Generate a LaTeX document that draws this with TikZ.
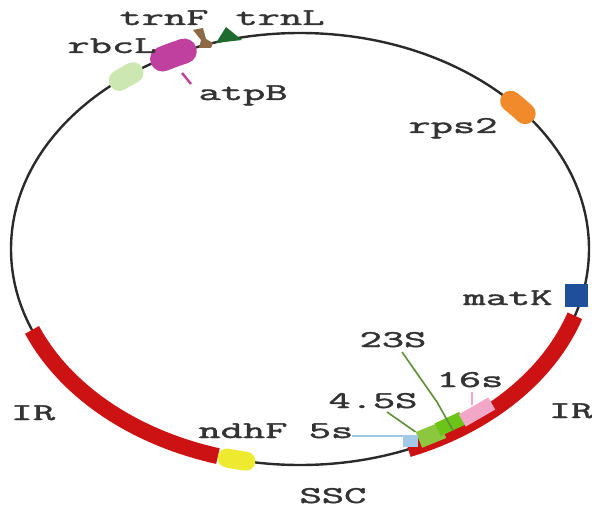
\documentclass[tikz,border=0pt]{standalone}
\usepackage{fontspec}
\definecolor{ink}{HTML}{2A2A2A}
\definecolor{txt}{HTML}{333333}
\definecolor{irred}{HTML}{CC1212}
\definecolor{rpsorange}{HTML}{F08A2A}
\definecolor{matblue}{HTML}{1F4E9A}
\definecolor{ndhyellow}{HTML}{EEEA30}
\definecolor{atpmag}{HTML}{C040A0}
\definecolor{rbcgreen}{HTML}{CDE7B2}
\definecolor{trnbrown}{HTML}{8C6A45}
\definecolor{trndark}{HTML}{1E6B30}
\definecolor{gfourfive}{HTML}{8DC63F}
\definecolor{gtwothree}{HTML}{6CC417}
\definecolor{gpink}{HTML}{F2A6C8}
\definecolor{glblue}{HTML}{A4C8E8}
\definecolor{leadolive}{HTML}{5E8F35}
\newfontfamily\labfont{Latin Modern Mono}[FakeBold=1.5]
\newcommand{\lbl}[1]{\scalebox{1.8}[1]{#1}}
\newcommand{\garc}[3]{\draw[#1] plot[domain=#2:#3,samples=40] ({300+289*cos(\x)},{249-216*sin(\x)});}
\tikzset{
  lab/.style={font=\fontsize{24}{24}\selectfont\labfont, text=txt, inner sep=0pt, anchor=base},
  band/.style={line width=16pt, irred},
  blob/.style={line width=#1, line cap=round},
  leader/.style={line width=1.6pt},
  boxgene/.style={draw=none, inner sep=0pt, rectangle}
}
\begin{document}
\begin{tikzpicture}[x=1pt,y=-1pt]
\useasboundingbox (0,0) rectangle (592,508);
% backbone
\draw[ink, line width=2.4pt] (300,249) ellipse [x radius=289, y radius=216];
% inverted repeats
\garc{band}{-18}{-68}
\garc{band}{202}{253.5}
% genes on the backbone
\garc{blob=21pt, rbcgreen}{125.3}{128.7}
\garc{blob=25pt, atpmag}{113.6}{118.4}
\garc{blob=21pt, rpsorange}{38.8}{43.2}
\garc{blob=19pt, ndhyellow}{255.4}{259.2}
\node[boxgene, fill=matblue, minimum width=23pt, minimum height=23pt] (matKbox) at (576,295) {};
\node[boxgene, fill=glblue, minimum width=15pt, minimum height=12pt] (fivebox) at (410,441) {};
\node[boxgene, fill=gfourfive, minimum width=26pt, minimum height=17pt, rotate=22] (ffbox) at (431,435) {};
\node[boxgene, fill=gtwothree, minimum width=27pt, minimum height=14pt, rotate=25] (ttbox) at (450,424) {};
\node[boxgene, fill=gpink, minimum width=34pt, minimum height=14pt, rotate=30] (sixbox) at (477,412) {};
% tRNA genes
\fill[trnbrown] (193,30) -- (203,28) -- (206,39) -- (213,43) -- (211,48) -- (199,48) -- (201,40) -- cycle;
\fill[trndark] (216,43) -- (226,27) -- (242,40) -- cycle;
% labels
\node[lab] (trnF) at (164,25) {\lbl{trnF}};
\node[lab] (trnL) at (280,25) {\lbl{trnL}};
\node[lab] (rbcL) at (112,53) {\lbl{rbcL}};
\node[lab] (atpB) at (243,100) {\lbl{atpB}};
\node[lab] (rps2) at (453,133) {\lbl{rps2}};
\node[lab] (matK) at (508,305) {\lbl{matK}};
\node[lab] (l23S) at (393,347) {\lbl{23S}};
\node[lab] (l16s) at (470,387) {\lbl{16s}};
\node[lab] (l45S) at (373,408) {\lbl{4.5S}};
\node[lab] (l5s) at (331,438) {\lbl{5s}};
\node[lab] (ndhF) at (243,438) {\lbl{ndhF}};
\node[lab] (IRl) at (33,420) {\lbl{IR}};
\node[lab] (IRr) at (571,418) {\lbl{IR}};
\node[lab] (SSC) at (333,503) {\lbl{SSC}};
% leader lines
\coordinate (atpA) at (182,73);
\coordinate (atpE) at (191,84);
\draw[leader, atpmag, line width=2.4pt] (atpA) -- (atpE);
\coordinate (t1) at (402,352);
\coordinate (t2) at (437,402);
\draw[leader, leadolive] (t1) -- (t2) -- (ttbox.south);
\coordinate (f1) at (387,412);
\draw[leader, leadolive] (f1) -- (ffbox.north west);
\coordinate (s1) at (472,392);
\coordinate (s2) at (472,405);
\draw[leader, gpink] (s1) -- (s2);
\coordinate (v1) at (352,436);
\draw[leader, glblue] (v1) -- (fivebox.north west |- v1) -- (fivebox.north east |- v1);
\end{tikzpicture}
\end{document}
